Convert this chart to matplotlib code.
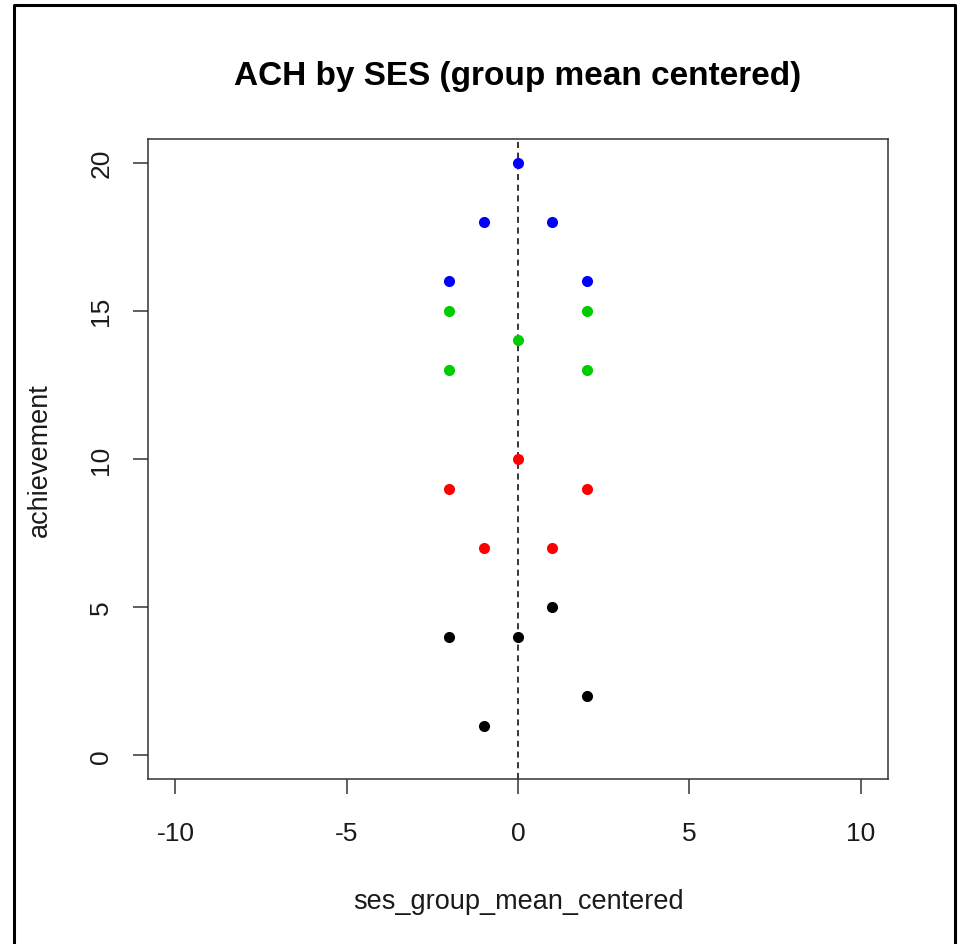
import matplotlib
matplotlib.use("Agg")
import matplotlib.pyplot as plt
from matplotlib.lines import Line2D

plt.rcParams['font.family'] = ['Liberation Sans', 'DejaVu Sans']

# data
black_x = [-1, 2, -2, 0, 1]
black_y = [1, 2, 4, 4, 5]
red_x = [-1, 1, -2, 2, 0]
red_y = [7, 7, 9, 9, 10]
green_x = [-2, 2, 0, -2, 2]
green_y = [13, 13, 14, 15, 15]
blue_x = [-2, 2, -1, 1, 0]
blue_y = [16, 16, 18, 18, 20]
x_ticks = [-10, -5, 0, 5, 10]
y_ticks = [0, 5, 10, 15, 20]

W, H = 961, 945
fig = plt.figure(figsize=(W/100, H/100), dpi=100)
ax = fig.add_axes([148/W, 1-780/H, (888-148)/W, (780-140)/H])

for xs, ys, c in [(black_x, black_y, 'black'), (red_x, red_y, '#FF0000'),
                  (green_x, green_y, '#00CD00'), (blue_x, blue_y, '#0000FF')]:
    ax.plot(xs, ys, 'o', color=c, markersize=8, markeredgewidth=0, zorder=3)

ax.axvline(0, color='black', linestyle=(0, (4, 3)), linewidth=1.1, zorder=2)

ax.set_xlim(-10.8, 10.8)
ax.set_ylim(-0.8, 20.8)
ax.set_xticks(x_ticks)
ax.set_yticks(y_ticks)
ax.set_xticklabels([str(v) for v in x_ticks])
ax.set_yticklabels([str(v) for v in y_ticks], rotation=90, va='center')
ax.tick_params(axis='both', direction='out', length=11, width=1.1, color='#333333',
               labelsize=19, labelcolor='#1a1a1a')
ax.tick_params(axis='x', pad=19)
ax.tick_params(axis='y', pad=14)
for s in ax.spines.values():
    s.set_linewidth(1.1)
    s.set_color('#333333')

ax.set_xlabel('ses_group_mean_centered', fontsize=19.5, labelpad=31, color='#1a1a1a')
ax.set_ylabel('achievement', fontsize=19.5, labelpad=26, color='#1a1a1a')
fig.text(518/W, 1-76/H, 'ACH by SES (group mean centered)', ha='center', va='center',
         fontsize=24, fontweight='bold')

# outer frame (left, top, right)
lx, rx, ty = 14/W, 955/W, 1-6/H
fig.add_artist(Line2D([lx, lx, rx, rx], [0, ty, ty, 0], transform=fig.transFigure,
                      color='black', linewidth=2.2))

fig.savefig('out.png', dpi=100)
